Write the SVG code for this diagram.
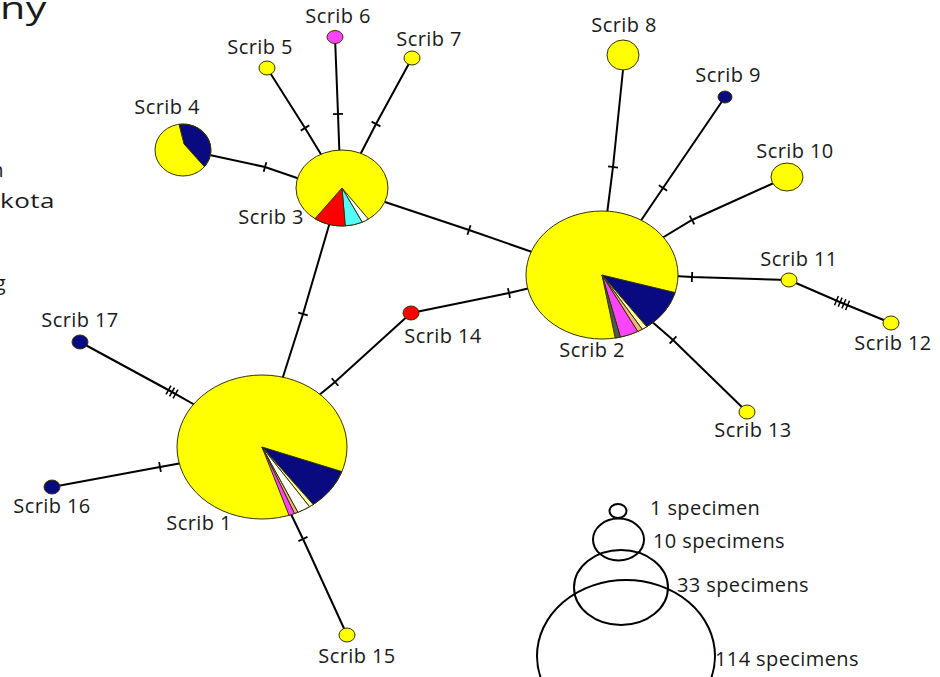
<svg xmlns="http://www.w3.org/2000/svg" width="940" height="677" viewBox="0 0 940 677">
<style>
.ln{stroke:#000;stroke-width:2;fill:none}
.tk{marker-mid:url(#t1)}
.tk3{marker-mid:url(#t3)}
.tk4{marker-mid:url(#t4)}
.nd{stroke:#333300;stroke-width:1}
.y{fill:#ffff00}
.nv{fill:#0a0a80}
.rd{fill:#ff0000}
.mg{fill:#ff44ff}
.cy{fill:#55ffff}
.wh{fill:#ffffff}
.pk{fill:#f4b183}
.py{fill:#ffffb0}
.gy{fill:#555555}
.lb{font-family:"Open Sans","Liberation Sans",sans-serif;font-size:20px;fill:#1a1a1a;letter-spacing:0.4px}
.lg{stroke:#000;stroke-width:2;fill:none}
</style>
<defs>
<marker id="t1" viewBox="-8 -8 16 16" refX="0" refY="0" markerWidth="16" markerHeight="16" markerUnits="userSpaceOnUse" orient="auto"><line x1="0" y1="-5" x2="0" y2="5" stroke="#000" stroke-width="1.8"/></marker>
<marker id="t3" viewBox="-8 -8 16 16" refX="0" refY="0" markerWidth="16" markerHeight="16" markerUnits="userSpaceOnUse" orient="auto"><path d="M-4,-5V5M0,-5V5M4,-5V5" stroke="#000" stroke-width="1.6"/></marker>
<marker id="t4" viewBox="-8 -8 16 16" refX="0" refY="0" markerWidth="16" markerHeight="16" markerUnits="userSpaceOnUse" orient="auto"><path d="M-6,-5V5M-2,-5V5M2,-5V5M6,-5V5" stroke="#000" stroke-width="1.5"/></marker>
</defs>
<rect width="940" height="677" fill="#fff"/>
<g id="cut-text" class="lb">
<text x="47" y="19" text-anchor="end" style="font-size:31px" textLength="47" lengthAdjust="spacingAndGlyphs">ny</text>
<text x="4" y="177" text-anchor="end">n</text>
<text x="55" y="208" text-anchor="end" textLength="55" lengthAdjust="spacingAndGlyphs">kota</text>
<text x="6" y="290" text-anchor="end">g</text>
</g>
<g id="connectors">
<path class="ln tk" d="M267,68 L305,128 L322,156"/>
<path class="ln tk" d="M335,37 L338,114 L339.5,155"/>
<path class="ln tk" d="M412,58 L376,124 L360,155"/>
<path class="ln tk" d="M205,154 L265,167 L300,179"/>
<path class="ln tk" d="M385,202 L469,230 L535,253"/>
<path class="ln tk" d="M330,222 L303,314 L282,380"/>
<path class="ln tk" d="M318,396 L335,382 L411,313"/>
<path class="ln tk" d="M411,313 L509,293 L530,288"/>
<path class="ln tk" d="M623,70 L613,167 L607,214"/>
<path class="ln tk" d="M725,97 L663,188 L640,222"/>
<path class="ln tk" d="M787,177 L692,220 L662,238"/>
<path class="ln tk" d="M789,280 L692,277 L675,276"/>
<path class="ln tk4" d="M789,280 L842,303 L891,323"/>
<path class="ln tk" d="M747,412 L673,340 L650,320"/>
<path class="ln tk3" d="M80,342 L172,392 L195,405"/>
<path class="ln tk" d="M52,487 L160,467 L182,463"/>
<path class="ln tk" d="M347,635 L303,539 L290,512"/>
</g>
<g id="scrib1">
<ellipse class="nd y" cx="262" cy="447" rx="85" ry="72"/>
<path class="nd nv" d="M262,447 L341.9,471.6 A85,72 0 0 1 313.2,504.5 Z"/>
<path class="nd py" d="M262,447 L313.2,504.5 A85,72 0 0 1 309.5,506.7 Z"/>
<path class="nd wh" d="M262,447 L309.5,506.7 A85,72 0 0 1 297.9,512.3 Z"/>
<path class="nd pk" d="M262,447 L297.9,512.3 A85,72 0 0 1 294.5,513.5 Z"/>
<path class="nd mg" d="M262,447 L294.5,513.5 A85,72 0 0 1 289,515.3 Z"/>
<text class="lb" x="199" y="530" text-anchor="middle">Scrib 1</text>
</g>
<g id="scrib2">
<ellipse class="nd y" cx="602" cy="275" rx="76" ry="64"/>
<path class="nd nv" d="M602,275 L675.1,292.6 A76,64 0 0 1 646.7,326.8 Z"/>
<path class="nd py" d="M602,275 L646.7,326.8 A76,64 0 0 1 642.3,329.3 Z"/>
<path class="nd pk" d="M602,275 L642.3,329.3 A76,64 0 0 1 637.7,331.5 Z"/>
<path class="nd mg" d="M602,275 L637.7,331.5 A76,64 0 0 1 620.4,337.1 Z"/>
<path class="nd gy" d="M602,275 L620.4,337.1 A76,64 0 0 1 615.2,338 Z"/>
<text class="lb" x="592" y="357" text-anchor="middle">Scrib 2</text>
</g>
<g id="scrib3">
<ellipse class="nd y" cx="342" cy="188" rx="46" ry="38"/>
<path class="nd wh" d="M342,188 L368.4,219.1 A46,38 0 0 1 362.2,222.2 Z"/>
<path class="nd cy" d="M342,188 L362.2,222.2 A46,38 0 0 1 345.2,225.9 Z"/>
<path class="nd rd" d="M342,188 L345.2,225.9 A46,38 0 0 1 315,218.7 Z"/>
<text class="lb" x="271" y="224" text-anchor="middle">Scrib 3</text>
</g>
<g id="scrib4">
<ellipse class="nd y" cx="183" cy="150" rx="28" ry="26"/>
<path class="nd nv" d="M184,144 L179,124.3 A28,26 0 0 1 204.4,166.7 Z"/>
<text class="lb" x="167" y="114" text-anchor="middle">Scrib 4</text>
</g>
<g id="scrib5">
<ellipse class="nd y" cx="267" cy="68" rx="8" ry="7"/>
<text class="lb" x="260" y="54" text-anchor="middle">Scrib 5</text>
</g>
<g id="scrib6">
<ellipse class="nd mg" cx="335" cy="37" rx="8" ry="6.5"/>
<text class="lb" x="338" y="23" text-anchor="middle">Scrib 6</text>
</g>
<g id="scrib7">
<ellipse class="nd y" cx="412" cy="58" rx="8" ry="7"/>
<text class="lb" x="429" y="46" text-anchor="middle">Scrib 7</text>
</g>
<g id="scrib8">
<ellipse class="nd y" cx="623" cy="55" rx="16" ry="15"/>
<text class="lb" x="624" y="32" text-anchor="middle">Scrib 8</text>
</g>
<g id="scrib9">
<ellipse class="nd nv" cx="725" cy="97" rx="7" ry="6"/>
<text class="lb" x="728" y="82" text-anchor="middle">Scrib 9</text>
</g>
<g id="scrib10">
<ellipse class="nd y" cx="787" cy="177" rx="16" ry="14"/>
<text class="lb" x="795" y="158" text-anchor="middle">Scrib 10</text>
</g>
<g id="scrib11">
<ellipse class="nd y" cx="789" cy="280" rx="8" ry="7"/>
<text class="lb" x="799" y="266" text-anchor="middle">Scrib 11</text>
</g>
<g id="scrib12">
<ellipse class="nd y" cx="891" cy="323" rx="8" ry="7"/>
<text class="lb" x="893" y="350" text-anchor="middle">Scrib 12</text>
</g>
<g id="scrib13">
<ellipse class="nd y" cx="747" cy="412" rx="8" ry="7"/>
<text class="lb" x="753" y="437" text-anchor="middle">Scrib 13</text>
</g>
<g id="scrib14">
<ellipse class="nd rd" cx="411" cy="313" rx="8" ry="7"/>
<text class="lb" x="443" y="343" text-anchor="middle">Scrib 14</text>
</g>
<g id="scrib15">
<ellipse class="nd y" cx="347" cy="635" rx="8" ry="7"/>
<text class="lb" x="357" y="663" text-anchor="middle">Scrib 15</text>
</g>
<g id="scrib16">
<ellipse class="nd nv" cx="52" cy="487" rx="8" ry="7"/>
<text class="lb" x="52" y="513" text-anchor="middle">Scrib 16</text>
</g>
<g id="scrib17">
<ellipse class="nd nv" cx="80" cy="342" rx="8" ry="7"/>
<text class="lb" x="80" y="327" text-anchor="middle">Scrib 17</text>
</g>
<g id="legend">
<ellipse class="lg" cx="618" cy="511" rx="8.5" ry="7"/>
<ellipse class="lg" cx="618.5" cy="539.5" rx="25.5" ry="21"/>
<ellipse class="lg" cx="621" cy="587.5" rx="47" ry="37.5"/>
<ellipse class="lg" cx="626" cy="656" rx="89" ry="76"/>
<text class="lb" x="650" y="515">1 specimen</text>
<text class="lb" x="653" y="548">10 specimens</text>
<text class="lb" x="677" y="592">33 specimens</text>
<text class="lb" x="715" y="666">114 specimens</text>
</g>
</svg>
